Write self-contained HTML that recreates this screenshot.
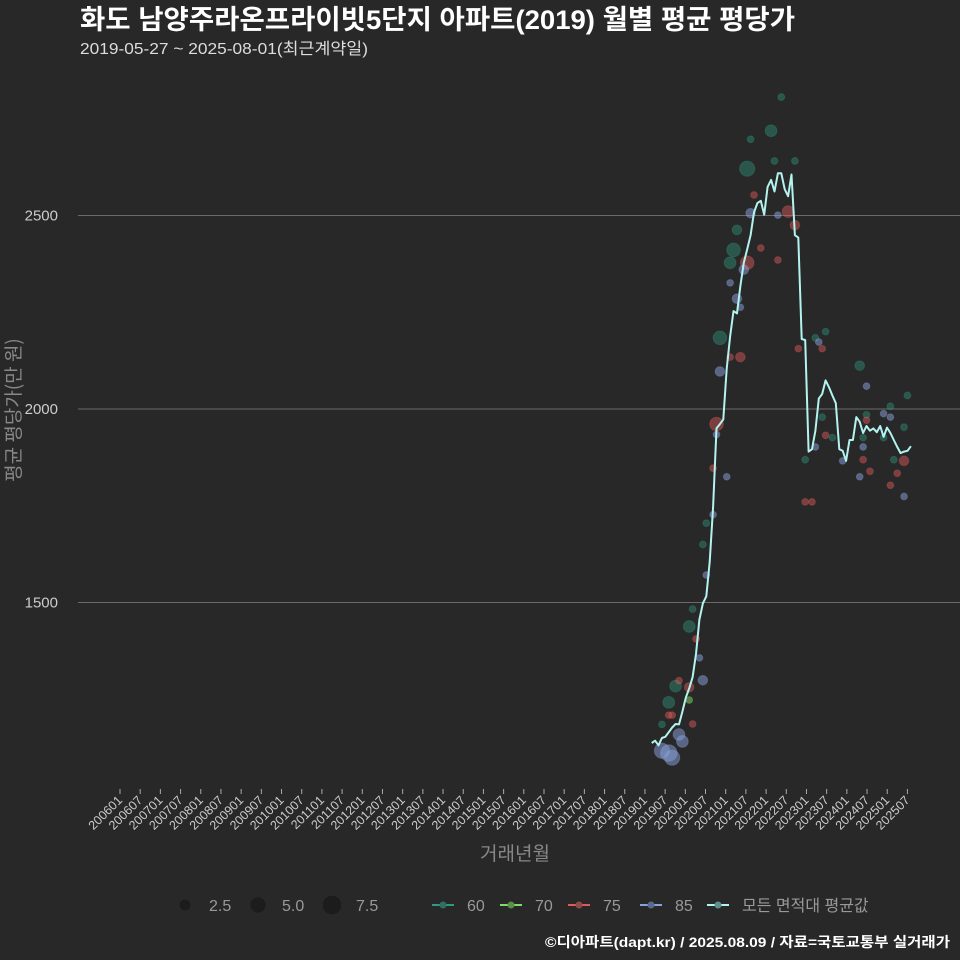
<!DOCTYPE html>
<html><head><meta charset="utf-8">
<style>
html,body{margin:0;padding:0;background:#282828;}
svg{display:block;font-family:"Liberation Sans","Noto Sans CJK KR",sans-serif;}
.kr{font-family:"Noto Sans CJK KR","Liberation Sans",sans-serif;}
</style></head>
<body>
<svg id="chart" width="960" height="960" viewBox="0 0 960 960">
<rect width="960" height="960" fill="#282828"/>
<text x="80" y="29" fill="#ffffff" font-size="27" font-weight="bold" textLength="715" lengthAdjust="spacingAndGlyphs">화도 남양주라온프라이빗5단지 아파트(2019) 월별 평균 평당가</text>
<text x="80" y="54" fill="#dddddd" font-size="16" textLength="288" lengthAdjust="spacingAndGlyphs">2019-05-27 ~ 2025-08-01(최근계약일)</text>
<g id="grid"></g>
<g id="yaxis"></g>
<g id="xaxis"></g>
<g id="points"></g>
<g id="line"></g>
<text class="kr" transform="translate(20,410) rotate(-90)" text-anchor="middle" fill="#888" font-size="19">평균 평당가(만 원)</text>
<text class="kr" x="515" y="860" text-anchor="middle" fill="#888" font-size="19">거래년월</text>
<g id="legend"></g>
<text x="950" y="947" text-anchor="end" fill="#ffffff" font-size="14" font-weight="bold" textLength="405" lengthAdjust="spacingAndGlyphs">©디아파트(dapt.kr) / 2025.08.09 / 자료=국토교통부 실거래가</text>
</svg>
<script>
// ---- data ----
const yTicks = [1500, 2000, 2500];
const xTickLabels = ["200601","200607","200701","200707","200801","200807","200901","200907","201001","201007","201101","201107","201201","201207","201301","201307","201401","201407","201501","201507","201601","201607","201701","201707","201801","201807","201901","201907","202001","202007","202101","202107","202201","202207","202301","202307","202401","202407","202501","202507"];
// monthly average (index 0 = 2019-05)
const avgValues = [1137,1143,1131,1150,1153,1165,1177,1186,1185,1218,1254,1278,1307,1367,1456,1498,1516,1605,1747,1950,1961,1973,2104,2187,2253,2247,2318,2378,2413,2449,2508,2532,2538,2502,2574,2592,2562,2609,2609,2568,2550,2606,2449,2443,2181,2178,1890,1896,1944,2027,2039,2074,2056,2035,2015,1896,1892,1866,1920,1920,1979,1967,1938,1956,1944,1950,1940,1956,1928,1952,1938,1920,1902,1886,1890,1892,1904];
// scatter points by area type
const ptArea  = [60,60,60,60,60,60,60,60,60,60,60,60,60,60,60,60,60,60,60,60,60,60,60,60,60,60,60,60,60,60,70,
  75,75,75,75,75,75,75,75,75,75,75,75,75,75,75,75,75,75,75,75,75,75,75,75,75,75,75,
  85,85,85,85,85,85,85,85,85,85,85,85,85,85,85,85,85,85,85,85,85,85,85,85,85,85,85];
const ptMonth = [38,35,29,28,36,42,25,24,23,20,16,15,12,11,7,5,3,48,51,61,70,75,63,74,50,53,45,62,68,71,11,
  30,40,42,32,37,28,26,23,19,18,13,11,8,5,6,12,43,50,51,45,47,62,63,64,70,72,74,
  29,37,27,23,25,26,20,19,22,18,16,14,15,3,5,6,8,9,49,48,56,63,62,61,68,70,74];
const ptValue = [2806,2719,2697,2621,2641,2641,2463,2411,2378,2184,1705,1650,1483,1438,1284,1242,1185,2184,2200,2112,2007,2035,1985,1953,1979,1926,1869,1926,1926,1869,1248,
  2553,2510,2475,2416,2385,2378,2134,2134,1961,1847,1406,1281,1298,1209,1209,1186,2156,2156,1932,1760,1760,1869,1971,1839,1803,1834,1866,
  2506,2501,2360,2326,2285,2263,2097,1934,1825,1727,1571,1357,1299,1117,1111,1099,1159,1141,2173,1902,1866,2059,1902,1825,1988,1979,1774];
const ptCount = [1,3,1,5,1,1,2,4,3,4,1,1,1,3,3,3,1,1,1,2,1,1,1,1,1,1,1,1,1,1,1,
  1,3,2,1,1,4,2,1,4,1,1,2,1,1,1,1,1,1,1,1,1,1,1,1,1,1,2,
  2,1,2,1,2,1,2,1,1,1,1,1,2,5,6,5,3,3,1,1,1,1,1,1,1,1,1];
const legendSizes = [2.5, 5.0, 7.5];
const legendAreas = ["60","70","75","85","모든 면적대 평균값"];

// ---- scales ----
const NS = "http://www.w3.org/2000/svg";
function yScale(v){ return 409 - (v - 2000) * 0.387; }
function xTickScale(i){ return 120 + i * 20.19; }
function xMonth(i){ return 651.7 + i * 3.41; }
function rScale(n){ return Math.sqrt(n) * 3.4; }
const areaColor = {60:"#2f9a82",70:"#7fdc6a",75:"#e05a5a",85:"#8aa2dc"};
const areaAlpha = {60:0.4,70:0.5,75:0.45,85:0.5};
function mk(tag, attrs, parent){ const e=document.createElementNS(NS,tag); for(const k in attrs) e.setAttribute(k,attrs[k]); parent.appendChild(e); return e; }

const grid=document.getElementById('grid'), yaxis=document.getElementById('yaxis');
yTicks.forEach(t=>{
  const l=mk('line',{x1:78,x2:960,y1:yScale(t),y2:yScale(t),stroke:'#6a6a6a','stroke-width':1},grid);
  
  
  const tx=mk('text',{x:58,y:yScale(t)+5,'text-anchor':'end',fill:'#cccccc','font-size':15},yaxis);
  tx.textContent=t;
  
  
});

const xaxis=document.getElementById('xaxis');
xTickLabels.forEach((lab,i)=>{
  const x=xTickScale(i);
  const tk=mk('line',{x1:x,x2:x,y1:789,y2:794,stroke:'#aaaaaa','stroke-width':1},xaxis);
  
  
  const tx=mk('text',{x:x+3,y:801,'text-anchor':'end',fill:'#cccccc','font-size':12.5,transform:`rotate(-45 ${x+3} 801)`},xaxis);
  tx.textContent=lab;
  
  
});

const pts=document.getElementById('points');
ptValue.forEach((v,i)=>{
  const a=ptArea[i];
  const c=mk('circle',{cx:xMonth(ptMonth[i]),cy:yScale(v),r:rScale(ptCount[i]),fill:areaColor[a],'fill-opacity':areaAlpha[a],stroke:areaColor[a],'stroke-opacity':0.3},pts);
  
  
});

const lineG=document.getElementById('line');
const d=avgValues.map((v,i)=>(i?'L':'M')+xMonth(i).toFixed(1)+','+yScale(v).toFixed(1)).join(' ');
const p=mk('path',{d:d,fill:'none',stroke:'#b4f4f0','stroke-width':2,'stroke-linejoin':'round'},lineG);



const lg=document.getElementById('legend');
const sizeX=[185,258,332];
legendSizes.forEach((s,i)=>{
  const c=mk('circle',{cx:sizeX[i],cy:905,r:rScale(s),fill:'#1c1c1c'},lg);
  
  
  const t=mk('text',{x:sizeX[i]+24,y:911,fill:'#999','font-size':16},lg);
  t.textContent=s.toFixed(1);
  
  
});
const areaX=[443,511,579,651,718];
const areaCols=["#2f9a82","#7fdc6a","#e05a5a","#8aa2dc","#b4f4f0"];
const dotCols=["#2f6f64","#5a8f4a","#8f4a4a","#5a6a8f","#5f8f8c"];
legendAreas.forEach((a,i)=>{
  const x=areaX[i];
  const l=mk('line',{x1:x-11,x2:x+11,y1:905,y2:905,stroke:areaCols[i],'stroke-width':2},lg);
  
  
  const c=mk('circle',{cx:x,cy:905,r:3.5,fill:dotCols[i]},lg);
  
  
  const t=mk('text',{x:x+24,y:911,fill:'#999','font-size':16},lg);
  t.textContent=a;
  
  
});
</script>
</body></html>
